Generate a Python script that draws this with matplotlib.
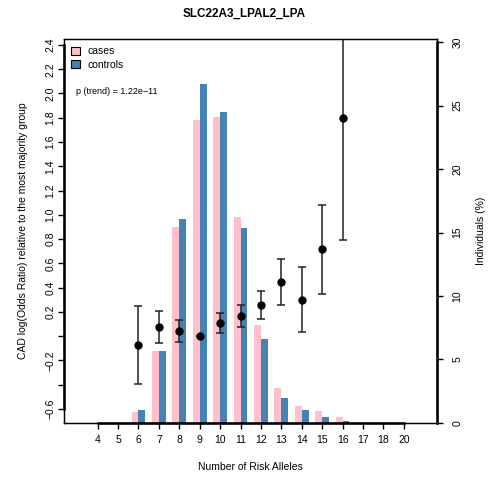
import numpy as np
import matplotlib
matplotlib.use('Agg')
import matplotlib.pyplot as plt
from matplotlib.patches import Patch

plt.rcParams['font.family'] = ['Liberation Sans', 'DejaVu Sans']

# data
alleles = ['4', '5', '6', '7', '8', '9', '10', '11', '12', '13', '14', '15', '16', '17', '18', '20']
cases_pct = [0, 0, 0.87, 5.67, 15.43, 23.9, 24.1, 16.22, 7.7, 2.76, 1.34, 0.95, 0.47, 0, 0, 0]
controls_pct = [0, 0, 1.0, 5.67, 16.06, 26.7, 24.5, 15.35, 6.6, 1.97, 1.0, 0.47, 0.16, 0, 0, 0]

or_alleles = ['6', '7', '8', '9', '10', '11', '12', '13', '14', '15', '16']
log_or = [-0.072, 0.076, 0.041, 0.0, 0.107, 0.164, 0.255, 0.447, 0.301, 0.717, 1.801]
or_low = [-0.394, -0.056, -0.050, 0.0, 0.024, 0.076, 0.139, 0.257, 0.032, 0.348, 0.796]
or_high = [0.252, 0.208, 0.131, 0.0, 0.189, 0.255, 0.373, 0.634, 0.571, 1.084, 2.806]

left_ticks = [-0.6, -0.4, -0.2, 0.0, 0.2, 0.4, 0.6, 0.8, 1.0, 1.2, 1.4, 1.6, 1.8, 2.0, 2.2, 2.4]
left_labels = ['\u22120.6', '', '\u22120.2', '', '0.2', '0.4', '0.6', '0.8', '1.0', '1.2', '1.4',
               '1.6', '1.8', '2.0', '2.2', '2.4']
right_ticks = [0, 5, 10, 15, 20, 25, 30]

pos = np.arange(len(alleles))
or_pos = np.array([alleles.index(a) for a in or_alleles])

fig = plt.figure(figsize=(4.89, 4.78), dpi=100)
ax = fig.add_axes([0.1309, 0.1151, 0.7628, 0.8033])
ax2 = ax.twinx()

# bars (percent of individuals) on the right axis
w = 0.34
ax2.bar(pos - w / 2, cases_pct, width=w, color='#FFC0CB', linewidth=0)
ax2.bar(pos + w / 2, controls_pct, width=w, color='#4682B4', linewidth=0)
ax2.set_ylim(0, 30.24)
ax2.set_yticks(right_ticks)
ax2.set_yticklabels([str(t) for t in right_ticks], rotation=90, va='center')
fig.text(481 / 489, 0.517, 'Individuals (%)', fontsize=7.5, rotation=90, ha='center', va='center')

# odds ratios on the left axis, drawn above the bars
ax.set_zorder(ax2.get_zorder() + 1)
ax.patch.set_visible(False)
err = [np.array(log_or) - np.array(or_low), np.array(or_high) - np.array(log_or)]
ax.errorbar(or_pos, log_or, yerr=err, fmt='o', color='black', ecolor='#222222',
            markersize=5, elinewidth=1.1, capsize=3, capthick=1.1)
ax.set_xlim(-1.65, 16.63)
ax.set_ylim(-0.715, 2.449)
ax.set_yticks(left_ticks)
ax.set_yticklabels(left_labels, rotation=90, va='center')
ax.set_xticks(pos)
ax.set_xticklabels(alleles)
ax.set_ylabel('CAD log(Odds Ratio) relative to the most majority group', fontsize=7.5, labelpad=13)
ax.set_xlabel('Number of Risk Alleles', fontsize=7.5, labelpad=12)

# R style axis lines over the box
ax.plot([pos[0], pos[-1]], [-0.715, -0.715], color='black', lw=1.8, clip_on=False)
ax.plot([-1.65, -1.65], [-0.6, 2.4], color='black', lw=1.8, clip_on=False)
ax2.plot([16.63, 16.63], [0, 30], color='black', lw=1.8, clip_on=False)

for a in (ax, ax2):
    a.tick_params(labelsize=7.5, length=4, width=1, colors='black')
    for s in a.spines.values():
        s.set_linewidth(0.9)
ax.tick_params(axis='y', pad=2)
ax.tick_params(axis='x', pad=5)
ax2.tick_params(axis='y', pad=7)

handles = [Patch(facecolor='#FFC0CB', edgecolor='black', linewidth=0.8),
           Patch(facecolor='#4682B4', edgecolor='black', linewidth=0.8)]
ax.legend(handles, ['cases', 'controls'], loc='upper left', frameon=False, fontsize=7.5,
          handlelength=0.8, handleheight=0.8, handletextpad=0.8, labelspacing=0.35,
          borderaxespad=0.3, bbox_to_anchor=(0.0, 1.0))
ax.text(0.032, 0.862, 'p (trend) = 1.22e\u221211', transform=ax.transAxes, fontsize=6.5,
        va='center', ha='left')

fig.suptitle('SLC22A3_LPAL2_LPA', fontsize=8.5, fontweight='bold', y=0.971, va='center')

fig.savefig('out.png', dpi=100)
